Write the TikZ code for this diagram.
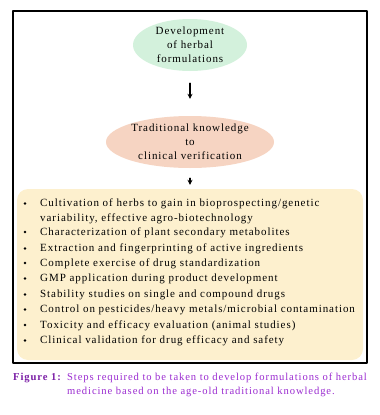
\documentclass[tikz,border=0pt]{standalone}
\usepackage{fontspec}
\setmainfont{Liberation Serif}[LetterSpace=8.5]
\usetikzlibrary{shapes.geometric,arrows.meta}

\definecolor{herbgreen}{HTML}{D3F1DC}
\definecolor{peach}{HTML}{F6D4C2}
\definecolor{cream}{HTML}{FDF0CE}
\definecolor{capviolet}{HTML}{9A2BD0}
\definecolor{capdark}{HTML}{7B1FA6}

\begin{document}
\begin{tikzpicture}[
    x=1pt,y=-1pt,
    line cap=round,
    line join=round,
    oval/.style={ellipse,inner sep=0pt,align=center,
      font=\fontsize{11}{14}\selectfont},
    arr/.style={line width=1.3pt,-{Stealth[length=5pt,width=5pt]}},
    item/.style={anchor=base west,inner sep=0pt,align=left,
      font=\fontsize{11}{14.5}\selectfont},
    dot/.style={circle,fill=black,inner sep=0pt,minimum size=2.6pt}
]
\useasboundingbox (0,0) rectangle (380,415);

% -------------------------------------------------
% Рамка
% -------------------------------------------------

\draw[line width=1.6pt] (13,11) rectangle (367,363);

% -------------------------------------------------
% Эллипсы
% -------------------------------------------------

\node[oval,fill=herbgreen,minimum width=114,minimum height=52] (dev) at (190,45)
  {Development\\of herbal\\formulations};
\node[oval,fill=peach,minimum width=168,minimum height=52] (trad) at (190,142)
  {Traditional knowledge\\to\\clinical verification};

% -------------------------------------------------
% Блок со списком
% (у многострочных узлов base -- по последней строке)
% -------------------------------------------------

\node[draw=none,fill=cream,rounded corners=11pt,minimum width=346,minimum height=171]
  (steps) at (190,274.5) {};

\draw[arr,shorten <=12pt,shorten >=17pt] (dev) -- (trad);
\draw[arr,shorten <=10pt,shorten >=4pt] (trad) -- (steps);

\node[item] (s1) at (40,221)   {Cultivation of herbs to gain in bioprospecting/genetic\\variability, effective agro-biotechnology};
\node[item] (s2) at (40,235)   {Characterization of plant secondary metabolites};
\node[item] (s3) at (40,251.5) {Extraction and fingerprinting of active ingredients};
\node[item] (s4) at (40,266)   {Complete exercise of drug standardization};
\node[item] (s5) at (40,281.5) {GMP application during product development};
\node[item] (s6) at (40,297.5) {Stability studies on single and compound drugs};
\node[item] (s7) at (40,312.5) {Control on pesticides/heavy metals/microbial contamination};
\node[item] (s8) at (40,328)   {Toxicity and efficacy evaluation (animal studies)};
\node[item] (s9) at (40,343.5) {Clinical validation for drug efficacy and safety};

\node[dot] at ([xshift=-15pt,yshift=17.5pt]s1.base west) {};
\foreach \s in {s2,s3,s4,s5,s6,s7,s8,s9}
  \node[dot] at ([xshift=-15pt,yshift=3pt]\s.base west) {};

% -------------------------------------------------
% Подпись
% -------------------------------------------------

\node[anchor=base west,inner sep=0pt,text=capdark,font=\bfseries\fontsize{10.6}{13}\selectfont]
  (fig) at (13,380) {Figure 1:};
\node[anchor=base west,inner sep=0pt,text=capviolet,align=left,
  font=\fontsize{10.6}{14}\selectfont] (cap) at (67,394)
  {Steps required to be taken to develop formulations of herbal\\medicine based on the age-old traditional knowledge.};
\end{tikzpicture}
\end{document}
